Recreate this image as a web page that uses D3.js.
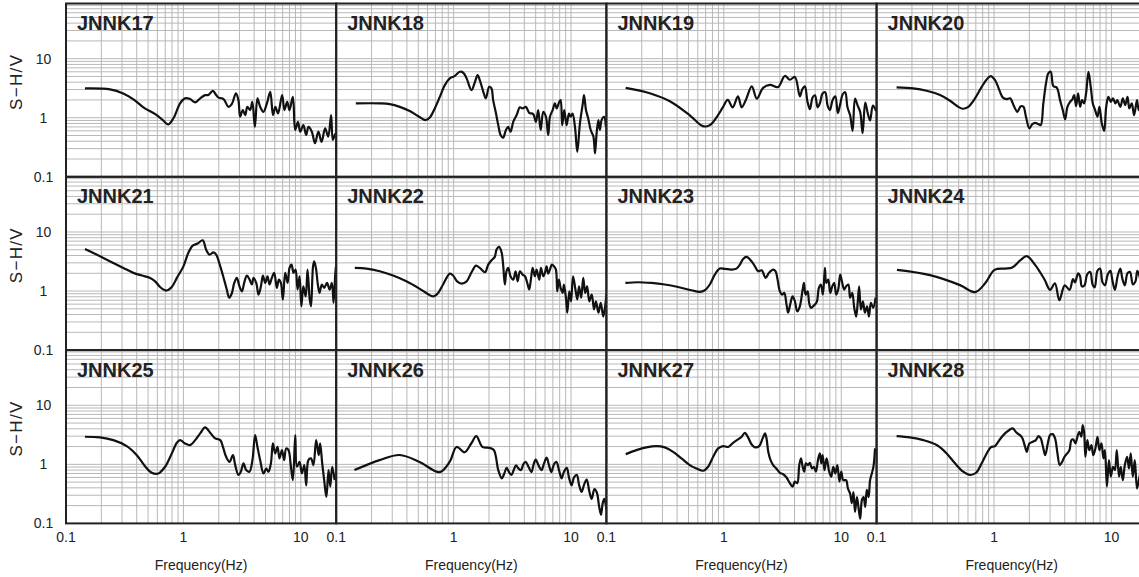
<!DOCTYPE html>
<html>
<head>
<meta charset="utf-8">
<script src="https://cdn.jsdelivr.net/npm/d3@7"></script>
<style>
  body { margin: 0; background: #fff; }
  text { font-family: "Liberation Sans", Arial, sans-serif; fill: #222; }
</style>
</head>
<body>
<svg id="chart" width="1139" height="577"></svg>
<script>
// Station names, one panel each (4 columns x 3 rows)
const stations = ["JNNK17", "JNNK18", "JNNK19", "JNNK20",
                  "JNNK21", "JNNK22", "JNNK23", "JNNK24",
                  "JNNK25", "JNNK26", "JNNK27", "JNNK28"];

// Axis ticks and extents
const freqTicks = [0.1, 1, 10];
const ampTicks = [0.1, 1, 10];
const freqDomain = [0.1, 20];
const ampDomain = [0.1, 86];
const xTitle = "Frequency(Hz)";
const yTitle = "S\u2212H/V";

// S-H/V spectral ratio per station: [frequency (Hz), amplification]
const jnnk17 = [[0.145,3.14],[0.237,3.03],[0.307,2.58],[0.375,2.05],[0.456,1.50],[0.593,1.11],[0.675,0.89],[0.745,0.77],[0.822,0.98],[0.937,1.75],[1.03,2.13],[1.14,2.07],[1.26,1.82],[1.39,2.13],[1.53,2.42],[1.63,2.42],[1.78,2.86],[1.90,2.42],[1.99,2.19],[2.13,2.13],[2.23,1.99],[2.42,1.53],[2.58,1.70],[2.80,2.58],[2.94,1.99],[3.04,1.04],[3.20,1.35],[3.36,1.11],[3.50,1.53],[3.70,1.35],[3.86,1.86],[4.06,0.70],[4.27,2.13],[4.50,1.53],[4.80,1.26],[5.14,1.75],[5.49,2.75],[5.79,1.11],[6.07,1.53],[6.39,1.18],[6.93,2.42],[7.25,1.35],[7.65,1.86],[8.0,1.35],[8.55,2.26],[8.95,0.62],[9.45,0.85],[9.88,0.58],[10.5,0.75],[11.1,0.51],[11.6,0.70],[12.4,0.58],[13.2,0.37],[14.1,0.58],[15.0,0.39],[16.1,0.66],[17.1,0.48],[18.1,1.11],[18.7,0.42],[19.6,0.54]];
const jnnk18 = [[0.147,1.75],[0.235,1.75],[0.286,1.70],[0.348,1.53],[0.423,1.30],[0.498,1.07],[0.576,0.91],[0.627,1.01],[0.691,1.44],[0.763,2.26],[0.841,3.57],[0.928,4.64],[1.02,5.07],[1.13,6.0],[1.21,5.77],[1.29,4.64],[1.42,2.94],[1.52,4.06],[1.60,5.27],[1.67,4.34],[1.79,2.75],[1.88,2.13],[2.01,3.34],[2.10,3.14],[2.17,1.99],[2.28,1.26],[2.40,0.75],[2.51,0.51],[2.64,0.46],[2.79,0.62],[2.92,0.70],[3.05,0.58],[3.22,0.85],[3.44,1.11],[3.67,1.50],[3.87,1.44],[4.12,1.53],[4.40,1.21],[4.76,1.15],[5.02,0.85],[5.25,1.35],[5.51,0.62],[5.80,1.26],[6.11,1.04],[6.39,0.51],[6.61,1.04],[6.97,1.35],[7.29,1.75],[7.54,1.44],[7.94,1.86],[8.15,1.99],[8.41,0.75],[8.75,1.35],[9.16,0.75],[9.60,1.18],[9.93,1.04],[10.3,1.18],[10.8,0.70],[11.3,0.265],[11.9,0.80],[12.6,1.75],[12.9,2.42],[13.4,1.35],[14.0,0.975],[14.7,0.62],[15.5,0.48],[16.0,0.25],[16.5,0.54],[17.1,0.91],[17.6,0.62],[18.2,0.91],[19.1,1.04],[19.8,0.70]];
const jnnk19 = [[0.146,3.2],[0.234,2.6],[0.347,1.9],[0.513,1.1],[0.663,0.72],[0.76,0.75],[0.89,1.1],[0.98,1.5],[1.08,2.0],[1.19,1.5],[1.32,2.3],[1.42,1.5],[1.54,2.0],[1.73,3.4],[1.91,2.1],[2.16,3.2],[2.47,3.6],[2.89,3.3],[3.31,5.1],[3.65,4.4],[4.03,4.9],[4.44,2.3],[4.65,3.0],[4.9,3.4],[5.15,1.9],[5.41,1.4],[5.7,2.2],[5.97,2.4],[6.3,1.5],[6.6,1.8],[6.95,2.6],[7.3,2.7],[7.65,1.6],[8.0,1.35],[8.45,2.0],[8.9,2.3],[9.35,1.2],[9.8,1.7],[10.3,2.5],[10.8,2.7],[11.3,1.5],[11.9,1.1],[12.5,0.6],[13.1,2.1],[13.8,1.6],[14.5,1.25],[15.2,0.55],[16.0,1.8],[16.8,1.2],[17.6,0.9],[18.6,1.6],[19.8,1.3]];
const jnnk20 = [[0.148,3.26],[0.205,3.14],[0.267,2.86],[0.347,2.42],[0.422,1.94],[0.497,1.53],[0.541,1.42],[0.604,1.53],[0.689,2.13],[0.785,3.34],[0.866,4.46],[0.937,5.07],[1.02,4.34],[1.11,2.94],[1.19,2.19],[1.28,2.07],[1.37,2.13],[1.48,1.57],[1.58,1.26],[1.69,1.57],[1.78,1.53],[1.87,1.04],[2.0,0.66],[2.12,0.78],[2.24,0.82],[2.39,0.78],[2.50,0.75],[2.63,1.75],[2.77,3.81],[2.90,5.63],[3.04,6.0],[3.20,3.43],[3.42,3.26],[3.65,1.99],[3.85,1.35],[4.03,0.94],[4.22,1.53],[4.44,1.86],[4.65,2.05],[4.81,2.42],[5.0,1.57],[5.20,2.58],[5.41,1.53],[5.62,1.99],[5.85,1.75],[6.08,2.58],[6.37,6.0],[6.67,3.26],[6.94,1.75],[7.26,1.35],[7.60,1.04],[7.90,1.53],[8.28,0.80],[8.67,0.60],[9.02,1.53],[9.42,2.26],[9.88,1.86],[10.3,2.13],[10.8,1.75],[11.2,1.99],[11.9,1.53],[12.5,2.13],[13.1,1.64],[13.7,2.26],[14.2,1.44],[14.9,1.75],[15.6,1.11],[16.5,1.99],[17.1,1.35],[18.3,1.7],[19.5,1.3]];
const jnnk21 = [[0.145,5.17],[0.171,4.42],[0.208,3.64],[0.253,2.99],[0.308,2.46],[0.375,2.03],[0.442,1.83],[0.520,1.67],[0.574,1.46],[0.633,1.17],[0.712,1.02],[0.796,1.17],[0.879,1.67],[1.0,2.62],[1.10,4.42],[1.20,5.88],[1.32,6.36],[1.46,7.23],[1.56,5.03],[1.67,4.14],[1.80,4.53],[1.90,4.14],[2.06,2.62],[2.22,1.56],[2.34,1.06],[2.45,0.77],[2.58,0.91],[2.71,1.37],[2.85,1.67],[3.0,1.20],[3.15,0.99],[3.29,1.37],[3.47,1.83],[3.66,1.56],[3.83,1.29],[3.95,1.67],[4.17,1.37],[4.36,0.87],[4.57,1.20],[4.75,1.83],[4.97,1.37],[5.2,1.78],[5.41,1.29],[5.66,1.67],[5.93,2.03],[6.25,1.13],[6.50,1.56],[6.76,1.37],[7.03,0.72],[7.36,2.03],[7.71,1.37],[8.01,2.46],[8.33,2.80],[8.67,2.03],[9.02,2.31],[9.37,1.06],[9.75,1.78],[10.1,0.55],[10.5,1.20],[11.0,0.81],[11.4,2.31],[11.9,0.72],[12.2,0.55],[12.7,2.62],[13.0,3.19],[13.5,2.31],[13.9,1.37],[14.4,0.93],[15.1,1.29],[15.8,1.13],[16.7,1.37],[17.6,1.06],[18.4,1.37],[19.0,0.63],[19.8,2.62],[20.0,1.56]];
const jnnk22 = [[0.144,2.46],[0.181,2.40],[0.235,2.16],[0.305,1.83],[0.396,1.46],[0.515,1.09],[0.594,0.91],[0.669,0.81],[0.738,0.93],[0.813,1.29],[0.928,1.97],[0.99,1.83],[1.07,1.46],[1.17,1.34],[1.29,1.46],[1.42,2.08],[1.55,2.70],[1.67,2.46],[1.85,2.08],[1.97,2.80],[2.10,3.32],[2.24,3.79],[2.32,5.03],[2.44,5.59],[2.56,4.53],[2.64,2.80],[2.73,1.29],[2.82,2.16],[2.92,2.46],[3.05,1.78],[3.22,1.56],[3.37,2.16],[3.51,1.46],[3.67,2.16],[3.87,1.90],[4.05,1.78],[4.24,1.37],[4.40,1.06],[4.55,1.56],[4.71,2.46],[4.92,1.78],[5.09,2.31],[5.36,1.56],[5.54,2.46],[5.80,1.78],[5.99,2.03],[6.19,2.62],[6.39,1.97],[6.61,2.31],[6.87,2.80],[7.15,2.62],[7.43,2.31],[7.63,0.99],[7.88,1.56],[8.15,1.13],[8.48,0.93],[8.7,1.29],[9.04,0.77],[9.29,0.43],[9.66,0.99],[10.0,0.67],[10.4,1.78],[10.9,1.06],[11.3,0.72],[11.7,1.20],[12.2,0.77],[12.7,1.67],[13.2,0.93],[13.7,1.20],[14.3,0.67],[15.0,0.87],[15.7,0.49],[16.3,0.67],[17.1,0.43],[17.9,0.63],[18.8,0.37],[19.6,0.59],[20.0,0.87]];
const jnnk23 = [[0.145,1.37],[0.186,1.41],[0.242,1.37],[0.314,1.29],[0.408,1.17],[0.530,1.03],[0.624,0.97],[0.689,1.03],[0.760,1.29],[0.838,1.90],[0.924,2.40],[1.02,2.37],[1.16,2.31],[1.28,2.40],[1.37,2.80],[1.46,3.50],[1.56,3.79],[1.72,3.19],[1.84,2.62],[1.96,2.16],[2.10,2.24],[2.27,1.67],[2.42,2.03],[2.63,2.31],[2.76,2.16],[2.87,1.56],[3.0,0.99],[3.14,0.87],[3.27,0.93],[3.42,0.59],[3.53,0.43],[3.70,0.63],[3.85,0.81],[4.03,0.67],[4.22,0.45],[4.44,0.55],[4.69,1.06],[4.81,1.37],[4.97,0.87],[5.17,0.99],[5.33,0.63],[5.52,0.52],[5.74,0.55],[5.97,0.59],[6.21,0.67],[6.45,1.13],[6.71,1.29],[6.98,0.87],[7.26,2.46],[7.45,1.37],[7.75,1.56],[8.06,0.93],[8.38,1.20],[8.71,1.37],[9.06,0.87],[9.42,1.06],[9.80,1.90],[10.2,1.37],[10.6,1.06],[11.0,1.20],[11.5,1.29],[11.9,0.77],[12.4,0.93],[12.9,0.52],[13.4,0.37],[13.8,0.63],[14.2,1.20],[14.7,0.49],[15.3,0.67],[15.9,0.43],[16.6,0.55],[17.2,0.37],[17.9,0.63],[18.7,0.52],[19.6,0.77]];
const jnnk24 = [[0.149,2.28],[0.285,1.86],[0.513,1.26],[0.69,0.96],[0.84,1.35],[1.01,2.28],[1.24,2.4],[1.43,2.5],[1.67,3.3],[1.9,3.9],[2.23,2.8],[2.46,2.1],[2.7,1.55],[3.0,1.05],[3.3,1.35],[3.6,0.7],[4.0,1.25],[4.4,1.05],[4.7,1.6],[4.9,1.4],[5.2,2.0],[5.4,1.8],[5.6,1.2],[5.9,1.25],[6.2,1.9],[6.6,2.1],[6.9,1.3],[7.2,1.15],[7.6,2.2],[8.0,2.4],[8.4,1.4],[8.8,1.25],[9.3,1.9],[9.8,2.2],[10.2,1.5],[10.7,1.05],[11.3,1.8],[11.9,2.4],[12.4,1.6],[13.0,1.25],[13.7,2.0],[14.4,2.1],[15.2,1.3],[16.0,1.45],[16.6,2.2],[17.3,1.8],[18.2,1.3],[19.0,1.6]];
const jnnk25 = [[0.145,2.93],[0.195,2.86],[0.253,2.57],[0.329,2.04],[0.401,1.43],[0.471,0.93],[0.537,0.72],[0.612,0.70],[0.698,0.91],[0.796,1.53],[0.879,2.32],[0.937,2.57],[1.03,2.26],[1.14,2.12],[1.26,2.57],[1.39,3.34],[1.53,4.22],[1.69,3.42],[1.86,2.75],[2.06,2.57],[2.17,1.97],[2.31,1.34],[2.47,1.10],[2.64,1.43],[2.76,0.97],[2.94,0.66],[3.08,0.75],[3.25,1.04],[3.42,0.80],[3.65,0.75],[3.87,1.18],[4.08,3.13],[4.27,1.97],[4.5,1.18],[4.81,0.70],[5.07,0.85],[5.30,0.75],[5.56,1.04],[5.78,2.26],[6.05,1.53],[6.33,1.97],[6.58,1.26],[6.90,1.74],[7.21,1.18],[7.5,1.86],[7.85,1.74],[8.23,0.91],[8.56,0.54],[8.96,3.13],[9.26,0.91],[9.75,1.10],[10.2,0.70],[10.7,0.97],[11.1,0.44],[11.6,1.18],[12.2,1.26],[12.8,0.97],[13.5,2.57],[14.2,1.43],[14.6,2.26],[15.2,1.04],[15.8,0.54],[16.5,0.28],[17.2,0.80],[17.8,0.42],[18.5,0.91],[19.4,0.54]];
const jnnk26 = [[0.143,0.80],[0.234,1.18],[0.347,1.44],[0.513,1.1],[0.76,0.74],[0.924,1.1],[1.06,1.97],[1.24,1.6],[1.42,2.3],[1.56,3.0],[1.76,1.97],[2.02,1.9],[2.2,1.75],[2.4,0.80],[2.57,0.58],[2.7,0.7],[2.83,0.87],[2.95,0.75],[3.1,0.66],[3.25,0.8],[3.4,0.96],[3.57,0.85],[3.75,0.80],[3.92,1.0],[4.1,1.1],[4.35,0.9],[4.6,0.74],[4.8,1.0],[5.0,1.2],[5.3,0.95],[5.6,0.80],[5.9,1.05],[6.2,1.3],[6.5,0.95],[6.8,0.74],[7.15,1.0],[7.5,1.1],[7.9,0.8],[8.3,0.58],[8.7,0.75],[9.2,0.87],[9.6,0.6],[10.1,0.44],[10.6,0.6],[11.2,0.66],[11.7,0.45],[12.3,0.34],[12.9,0.45],[13.6,0.55],[14.3,0.35],[15.0,0.26],[15.8,0.38],[16.6,0.33],[17.3,0.2],[18.0,0.14],[18.6,0.22],[19.2,0.26],[20.0,0.17]];
const jnnk27 = [[0.146,1.49],[0.180,1.74],[0.219,1.94],[0.267,2.04],[0.314,1.94],[0.370,1.63],[0.436,1.26],[0.513,0.97],[0.585,0.85],[0.667,0.78],[0.735,0.91],[0.811,1.34],[0.894,1.86],[0.986,2.04],[1.09,1.97],[1.20,2.32],[1.32,2.64],[1.42,2.93],[1.51,3.42],[1.61,2.86],[1.72,2.19],[1.84,1.94],[2.0,2.04],[2.14,2.75],[2.24,3.34],[2.31,2.75],[2.39,1.63],[2.50,1.18],[2.63,0.97],[2.8,0.85],[3.0,0.72],[3.2,0.68],[3.42,0.60],[3.65,0.48],[3.85,0.42],[4.03,0.51],[4.22,0.48],[4.39,0.97],[4.54,1.26],[4.69,0.91],[4.84,0.75],[5.0,1.04],[5.2,0.97],[5.41,1.06],[5.62,0.85],[5.85,0.91],[6.08,0.75],[6.37,1.26],[6.58,1.53],[6.75,1.04],[6.94,1.43],[7.2,0.80],[7.5,1.26],[7.9,0.75],[8.22,0.62],[8.55,0.91],[8.9,0.70],[9.26,0.97],[9.65,0.51],[10.0,0.75],[10.4,0.54],[11.0,0.54],[11.4,0.39],[11.9,0.32],[12.3,0.22],[12.7,0.34],[13.1,0.157],[13.6,0.28],[14.0,0.19],[14.5,0.12],[15.0,0.25],[15.5,0.28],[16.0,0.19],[16.5,0.37],[17.1,0.28],[17.6,0.54],[18.2,0.70],[18.8,0.91],[19.4,1.86]];
const jnnk28 = [[0.148,3.01],[0.192,2.86],[0.250,2.57],[0.325,2.12],[0.395,1.53],[0.465,1.04],[0.547,0.75],[0.624,0.66],[0.703,0.72],[0.785,1.04],[0.866,1.53],[0.937,1.94],[1.02,2.04],[1.12,2.64],[1.24,3.34],[1.35,3.81],[1.44,4.06],[1.56,3.42],[1.72,2.93],[1.84,1.97],[1.90,1.63],[2.0,2.26],[2.14,2.41],[2.27,2.57],[2.39,3.01],[2.50,2.75],[2.63,1.86],[2.73,1.43],[2.87,2.26],[3.0,3.13],[3.16,3.25],[3.31,2.75],[3.47,1.53],[3.63,0.97],[3.8,1.10],[3.98,1.34],[4.20,1.53],[4.39,1.74],[4.56,2.57],[4.74,2.64],[4.93,2.26],[5.13,2.93],[5.33,3.56],[5.54,2.93],[5.69,4.6],[5.85,3.56],[6.0,1.34],[6.23,2.57],[6.48,1.74],[6.75,2.12],[7.0,1.43],[7.3,1.86],[7.6,2.93],[7.9,1.74],[8.22,2.26],[8.55,1.26],[8.8,1.74],[9.15,0.42],[9.52,1.18],[9.88,0.62],[10.3,0.91],[10.7,0.80],[11.1,1.74],[11.6,0.62],[12.0,0.91],[12.5,0.54],[13.0,0.97],[13.6,1.34],[14.1,0.85],[14.6,1.53],[15.2,0.62],[15.8,1.18],[16.5,0.39],[17.1,0.54],[18.3,0.9],[19.6,0.6]];

const curves = [jnnk17, jnnk18, jnnk19, jnnk20,
                jnnk21, jnnk22, jnnk23, jnnk24,
                jnnk25, jnnk26, jnnk27, jnnk28];

// Panel layout
const cols = 4, rows = 3;
const originX = 66, originY = 3.5;
const panelW = 270.2, panelH = 173.3;

const svg = d3.select("#chart");

const x = d3.scaleLog().domain(freqDomain).range([0, panelW]);
const y = d3.scaleLog().domain(ampDomain).range([panelH, 0]);

// Log grid lines: 1..9 within every decade that falls inside the domain
function logGrid(domain) {
  const out = [];
  for (let e = Math.floor(Math.log10(domain[0])); e <= Math.ceil(Math.log10(domain[1])); e++) {
    for (let k = 1; k <= 9; k++) {
      const v = k * Math.pow(10, e);
      if (v > domain[0] * 1.0001 && v < domain[1] * 0.9999) out.push(+v.toPrecision(3));
    }
  }
  return out;
}
const gridX = logGrid(freqDomain);
const gridY = logGrid(ampDomain);

const line = d3.line()
  .x(d => x(d[0]))
  .y(d => y(d[1]))
  .curve(d3.curveCatmullRom.alpha(0.5));

const defs = svg.append("defs");
defs.append("clipPath").attr("id", "plotClip")
  .append("rect").attr("x", 0).attr("y", 0).attr("width", panelW).attr("height", panelH);

stations.forEach((name, i) => {
  const c = i % cols, r = Math.floor(i / cols);
  const g = svg.append("g")
    .attr("transform", `translate(${originX + c * panelW},${originY + r * panelH})`);

  // grid
  g.append("g").selectAll("line").data(gridX).join("line")
    .attr("x1", d => x(d)).attr("x2", d => x(d))
    .attr("y1", 0).attr("y2", panelH)
    .attr("stroke", "#b8b8b8").attr("stroke-width", 1);
  g.append("g").selectAll("line").data(gridY).join("line")
    .attr("x1", 0).attr("x2", panelW)
    .attr("y1", d => y(d)).attr("y2", d => y(d))
    .attr("stroke", "#b8b8b8").attr("stroke-width", 1);

  // spectral ratio curve
  g.append("path")
    .datum(curves[i])
    .attr("clip-path", "url(#plotClip)")
    .attr("fill", "none")
    .attr("stroke", "#111")
    .attr("stroke-width", 2.2)
    .attr("stroke-linejoin", "round")
    .attr("d", line);

  // station title
  g.append("text")
    .attr("x", 11).attr("y", 26.5)
    .attr("font-size", 20).attr("font-weight", "bold")
    .text(name);

  // frame
  g.append("rect")
    .attr("x", 0).attr("y", 0).attr("width", panelW).attr("height", panelH)
    .attr("fill", "none").attr("stroke", "#222").attr("stroke-width", 2);
});

// y tick labels and titles for each row
for (let r = 0; r < rows; r++) {
  const top = originY + r * panelH;
  svg.append("g").selectAll("text").data(ampTicks).join("text")
    .attr("x", 43.5).attr("y", d => top + y(d))
    .attr("text-anchor", "middle").attr("dominant-baseline", "central")
    .attr("font-size", 14)
    .text(d => d);
  svg.append("text")
    .attr("transform", `translate(16.7,${top + 79}) rotate(-90)`)
    .attr("text-anchor", "middle").attr("dominant-baseline", "central")
    .attr("font-size", 17)
    .attr("textLength", 55).attr("lengthAdjust", "spacing")
    .text(yTitle);
}

// x tick labels and titles for each column
const bottom = originY + rows * panelH;
for (let c = 0; c < cols; c++) {
  const left = originX + c * panelW;
  svg.append("g").selectAll("text").data(freqTicks).join("text")
    .attr("x", d => left + x(d)).attr("y", bottom + 14)
    .attr("text-anchor", "middle").attr("dominant-baseline", "central")
    .attr("font-size", 14)
    .text(d => d);
  svg.append("text")
    .attr("x", left + panelW / 2).attr("y", bottom + 42)
    .attr("text-anchor", "middle").attr("dominant-baseline", "central")
    .attr("font-size", 14)
    .text(xTitle);
}
</script>
</body>
</html>
